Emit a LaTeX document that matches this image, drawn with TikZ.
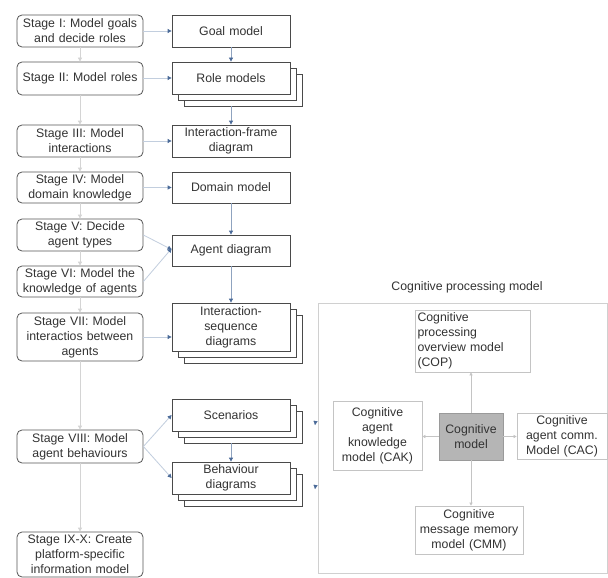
\documentclass[tikz,border=0pt]{standalone}
\usepackage{fontspec}
\setmainfont{Liberation Sans}
\usetikzlibrary{arrows.meta}
\definecolor{txt}{HTML}{333333}
\definecolor{stageborder}{HTML}{555555}
\definecolor{boxborder}{HTML}{4a4a4a}
\definecolor{cogborder}{HTML}{c4c4c4}
\definecolor{bigborder}{HTML}{d0d0d0}
\definecolor{cmfill}{HTML}{b5b5b5}
\definecolor{cmborder}{HTML}{9a9a9a}
\definecolor{arrblue}{HTML}{4a6a98}
\definecolor{linkline}{HTML}{c2cede}
\definecolor{vline}{HTML}{8fa3bf}
\definecolor{stageline}{HTML}{d4d4d4}
\tikzset{
  lbl/.style={font=\fontsize{12.3}{15}\selectfont, text=txt, align=center, inner sep=0pt},
  stagebox/.style={lbl, draw=stageborder, line width=0.8pt, rounded corners=5pt, minimum width=126pt, text width=122pt},
  modelbox/.style={lbl, draw=boxborder, line width=0.8pt, fill=white, minimum width=118pt, text width=114pt},
  cogbox/.style={lbl, draw=cogborder, line width=0.7pt},
  stagearrow/.style={draw=stageline, line width=0.8pt, -{Triangle[width=4pt,length=4pt]}},
  linkarrow/.style={draw=linkline, line width=0.8pt, -{Triangle[width=4pt,length=4pt,color=arrblue]}},
  downarrow/.style={draw=vline, line width=0.8pt, -{Triangle[width=4pt,length=4pt,color=arrblue]}},
  cogarrow/.style={draw=cogborder, line width=0.6pt, -{Triangle[width=3pt,length=3pt]}},
  stackback/.style={draw=boxborder, line width=0.8pt, fill=white}
}
\newcommand{\stackedbox}[5]{%
  \draw[stackback] (#2-59+12,#3-#4/2+12) rectangle (#2+59+12,#3+#4/2+12);
  \draw[stackback] (#2-59+6,#3-#4/2+6) rectangle (#2+59+6,#3+#4/2+6);
  \node[modelbox, minimum height=#4 pt] (#1) at (#2,#3) {#5};
}
\begin{document}
\begin{tikzpicture}[x=1pt,y=-1pt]
\useasboundingbox (0,0) rectangle (608,578);
\fill[white] (0,0) rectangle (608,578);

% stage boxes
\node[stagebox, minimum height=32pt] (s1) at (80,31) {Stage I: Model goals\\and decide roles};
\node[stagebox, minimum height=33pt] (s2) at (80,78.5) {Stage II: Model roles};
\node[stagebox, minimum height=32pt] (s3) at (80,141) {Stage III: Model\\interactions};
\node[stagebox, minimum height=31pt] (s4) at (80,187.5) {Stage IV: Model\\domain knowledge};
\node[stagebox, minimum height=32pt] (s5) at (80,235) {Stage V: Decide\\agent types};
\node[stagebox, minimum height=31pt] (s6) at (80,281.5) {Stage VI: Model the\\knowledge of agents};
\node[stagebox, minimum height=48pt] (s7) at (80,337) {Stage VII: Model\\interactios between\\agents};
\node[stagebox, minimum height=33pt] (s8) at (80,446.5) {Stage VIII: Model\\agent behaviours};
\node[stagebox, minimum height=45pt] (s9) at (80,554.5) {Stage IX-X: Create\\platform-specific\\information model};

% model boxes
\node[modelbox, minimum height=32pt] (goal) at (231,31) {Goal model};
\stackedbox{role}{231}{78}{32}{Role models}
\node[modelbox, minimum height=32pt] (iframe) at (231,141) {Interaction-frame\\diagram};
\node[modelbox, minimum height=31pt] (domain) at (231,187.5) {Domain model};
\node[modelbox, minimum height=31pt] (agent) at (231,250.5) {Agent diagram};
\stackedbox{iseq}{231}{327}{48}{Interaction-\\sequence\\diagrams}
\stackedbox{scen}{231}{415}{32}{Scenarios}
\stackedbox{behav}{231}{478}{32}{Behaviour\\diagrams}

% stage vertical arrows
\draw[stagearrow] (s1) -- (s2);
\draw[stagearrow] (s2) -- (s3);
\draw[stagearrow] (s3) -- (s4);
\draw[stagearrow] (s4) -- (s5);
\draw[stagearrow] (s5) -- (s6);
\draw[stagearrow] (s6) -- (s7);
\draw[stagearrow] (s7) -- (s8);
\draw[stagearrow] (s8) -- (s9);

% stage to model arrows
\draw[linkarrow] (s1) -- (goal);
\draw[linkarrow] (s2.east |- role) -- (role);
\draw[linkarrow] (s3) -- (iframe);
\draw[linkarrow] (s4) -- (domain);
\draw[linkarrow] (s5.east) -- ([yshift=1pt]agent.west);
\draw[linkarrow] (s6.east) -- ([yshift=2pt]agent.west);
\draw[linkarrow] (s7.east) -- (s7.east -| iseq.west);
\draw[linkarrow] (s8.east) -- (scen.west);
\draw[linkarrow] (s8.east) -- (behav.west);

% model vertical arrows
\draw[downarrow] (goal.south) -- (role.north);
\draw[downarrow] ([yshift=-12pt]role.south) -- (iframe.north);
\draw[downarrow] (domain.south) -- (agent.north);
\draw[downarrow] (agent.south) -- (iseq.north);
\draw[downarrow] ([yshift=-12pt]scen.south) -- (behav.north);

% cognitive processing model
\node[lbl] (cpmtitle) at (467,287) {Cognitive processing model};
\node[draw=bigborder, line width=0.8pt, minimum width=289pt, minimum height=270pt, inner sep=0pt] (cpm) at (462.5,438) {};
\node[cogbox, minimum width=115pt, minimum height=62pt, text width=110pt, align=left] (cop) at (472.5,341) {Cognitive\\processing\\overview model\\(COP)};
\node[cogbox, minimum width=89pt, minimum height=69pt, text width=86pt] (cak) at (377.5,435.5) {Cognitive\\agent\\knowledge\\model (CAK)};
\node[lbl, draw=cmborder, fill=cmfill, line width=0.7pt, minimum width=64pt, minimum height=47pt] (cm) at (471,436.5) {Cognitive\\model};
\node[cogbox, minimum width=90pt, minimum height=46pt, text width=88pt] (cac) at (562,436) {Cognitive\\agent comm.\\Model (CAC)};
\node[cogbox, minimum width=108pt, minimum height=48pt, text width=106pt] (cmm) at (469,530) {Cognitive\\message memory\\model (CMM)};

\draw[cogarrow] (cm.north) -- (cm.north |- cop.south);
\draw[cogarrow] (cm.west) -- (cm.west -| cak.east);
\draw[cogarrow] (cm.east) -- (cm.east -| cac.west);
\draw[cogarrow] (cm.south) -- (cm.south |- cmm.north);

% faint arrows towards stacked boxes
\coordinate (a1s) at (316,418);
\coordinate (a1e) at (315,425);
\coordinate (a2s) at (316,482);
\coordinate (a2e) at (315,489);
\draw[draw=white, line width=0.1pt, -{Triangle[width=4pt,length=4pt,color=arrblue]}] (a1s) -- (a1e);
\draw[draw=white, line width=0.1pt, -{Triangle[width=4pt,length=4pt,color=arrblue]}] (a2s) -- (a2e);
\end{tikzpicture}
\end{document}
